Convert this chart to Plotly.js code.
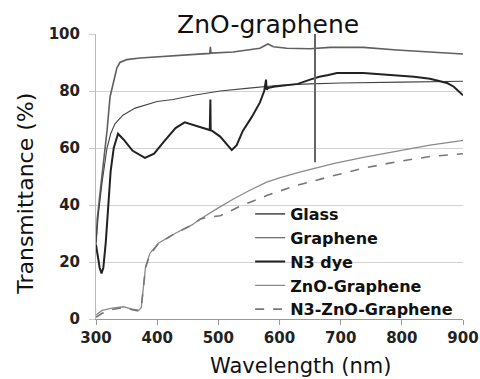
<!DOCTYPE html>
<html>
<head>
<meta charset="utf-8">
<script src="https://cdn.plot.ly/plotly-3.0.1.min.js"></script>
<style>html,body{margin:0;padding:0;background:#fff;}#chart{width:480px;height:379px;}</style>
</head>
<body>
<div id="chart"></div>
<script>
// Glass
const glassX = [300,302,306,310,314,318,323,329,334,339,350,372,400,450,486,487,488,524,568,581,590,612,650,683,737,792,846,895,900];
const glassY = [26,35,43,50,58,66,78,84,88,90,91,91.6,92,92.6,93.2,95.5,93.3,93.7,95,96.5,95.5,95,94.8,95.3,95.3,94.4,93.7,93.3,93];
// Graphene
const grapheneX = [300,304,310,318,324,331,344,364,400,426,460,503,550,600,650,700,800,900];
const grapheneY = [27,37,48,60,65,68.5,71.5,74,76.3,77,78.5,80,81,82,82.5,82.8,83.1,83.4];
// N3 dye
const n3X = [300,303,306,309,312,316,320,324,329,336,345,360,380,395,410,430,445,460,475,486,487,487.5,490,503,515,522,530,540,555,568,575,578,579,581,590,606,630,650,665,680,694,737,760,792,820,846,874,885,895,900];
const n3Y = [26,22,18,16,18,27,40,52,60,65,63,59,56.5,58,62,67,69,68,67,66.3,77,66.2,66,64,61,59.3,61,66,71,76,80,84,80.5,81,81.5,82,82.5,84,85,85.6,86.3,86.3,86,85.6,85,84.3,82.8,81.5,79.3,78.5];
// ZnO-Graphene
const znoX = [300,310,326,345,359,370,374,377,381,388,402,429,457,470,484,500,524,550,579,600,633,660,688,737,792,846,895,900];
const znoY = [1.4,3,3.8,4.3,3.5,3.1,4,10,18.4,23,26.6,30,33,35,37,39,42,45,48,49.5,51.5,53,54.5,56.7,59,61,62.5,62.7];
// N3-ZnO-Graphene
const n3znoX = [300,310,326,345,359,370,374,377,381,388,402,429,457,470,484,503,520,535,552,579,622,655,683,737,792,846,895,900];
const n3znoY = [0.6,2,3.3,4,3.3,2.8,4,10,18,22.5,26.5,30,33,35,35.8,36.2,38,39.5,41,43.3,46.5,48.5,50,52.9,55.2,57,58,58];
// measurement artefact (vertical spike)
const spikeX = [658,658];
const spikeY = [55,100];

const xTicks = [300,400,500,600,700,800,900];
const yTicks = [0,20,40,60,80,100];

const traces = [
  {x: glassX, y: glassY, name: 'Glass', mode: 'lines', line: {color: '#606060', width: 1.6}},
  {x: grapheneX, y: grapheneY, name: 'Graphene', mode: 'lines', line: {color: '#444', width: 1.1}},
  {x: n3X, y: n3Y, name: 'N3 dye', mode: 'lines', line: {color: '#222', width: 2}},
  {x: znoX, y: znoY, name: 'ZnO-Graphene', mode: 'lines', line: {color: '#8a8a8a', width: 1.3}},
  {x: n3znoX, y: n3znoY, name: 'N3-ZnO-Graphene', mode: 'lines', line: {color: '#777', width: 1.6, dash: 'dash'}},
  {x: spikeX, y: spikeY, mode: 'lines', showlegend: false, hoverinfo: 'skip', line: {color: '#666', width: 2}}
];

const tickFont = {family: 'DejaVu Sans', size: 15, color: '#222', weight: 'bold'};

const layout = {
  width: 480, height: 379,
  margin: {l: 96, r: 17, t: 34, b: 60},
  paper_bgcolor: '#fff', plot_bgcolor: '#fff',
  title: {text: 'ZnO-graphene', x: 0.469, xref: 'paper', xanchor: 'center', y: 0.935, yref: 'container', yanchor: 'middle',
          font: {family: 'DejaVu Sans', size: 25, color: '#111'}},
  showlegend: true,
  legend: {x: 0.42, xanchor: 'left', y: 0.428, yanchor: 'top', bgcolor: 'rgba(0,0,0,0)', borderwidth: 0,
           font: {family: 'DejaVu Sans', size: 16, color: '#111', weight: 'bold'}},
  xaxis: {range: [300, 900], tickvals: xTicks, ticktext: xTicks.map(String), tickfont: tickFont,
          showgrid: false, zeroline: false, showline: true, linecolor: '#999', linewidth: 1,
          ticks: 'outside', ticklen: 5, tickcolor: '#999', title: {text: ''}},
  yaxis: {range: [0, 100], tickvals: yTicks, ticktext: yTicks.map(String), tickfont: tickFont,
          showgrid: true, gridcolor: '#d2d2d2', gridwidth: 1, zeroline: false, showline: true, linecolor: '#bbb', linewidth: 1,
          ticks: 'outside', ticklen: 6, tickcolor: '#ccc', ticklabelstandoff: 6, title: {text: ''}},
  annotations: [
    {text: 'Transmittance (%)', textangle: -90, xref: 'paper', yref: 'paper', x: -0.193, y: 0.44, xanchor: 'center', yanchor: 'middle',
     showarrow: false, font: {family: 'DejaVu Sans', size: 22, color: '#111'}},
    {text: 'Wavelength (nm)', xref: 'paper', yref: 'paper', x: 0.556, y: -0.165, xanchor: 'center', yanchor: 'middle',
     showarrow: false, font: {family: 'DejaVu Sans', size: 21, color: '#111'}}
  ]
};

Plotly.newPlot('chart', traces, layout, {displayModeBar: false, staticPlot: true});
</script>
</body>
</html>
